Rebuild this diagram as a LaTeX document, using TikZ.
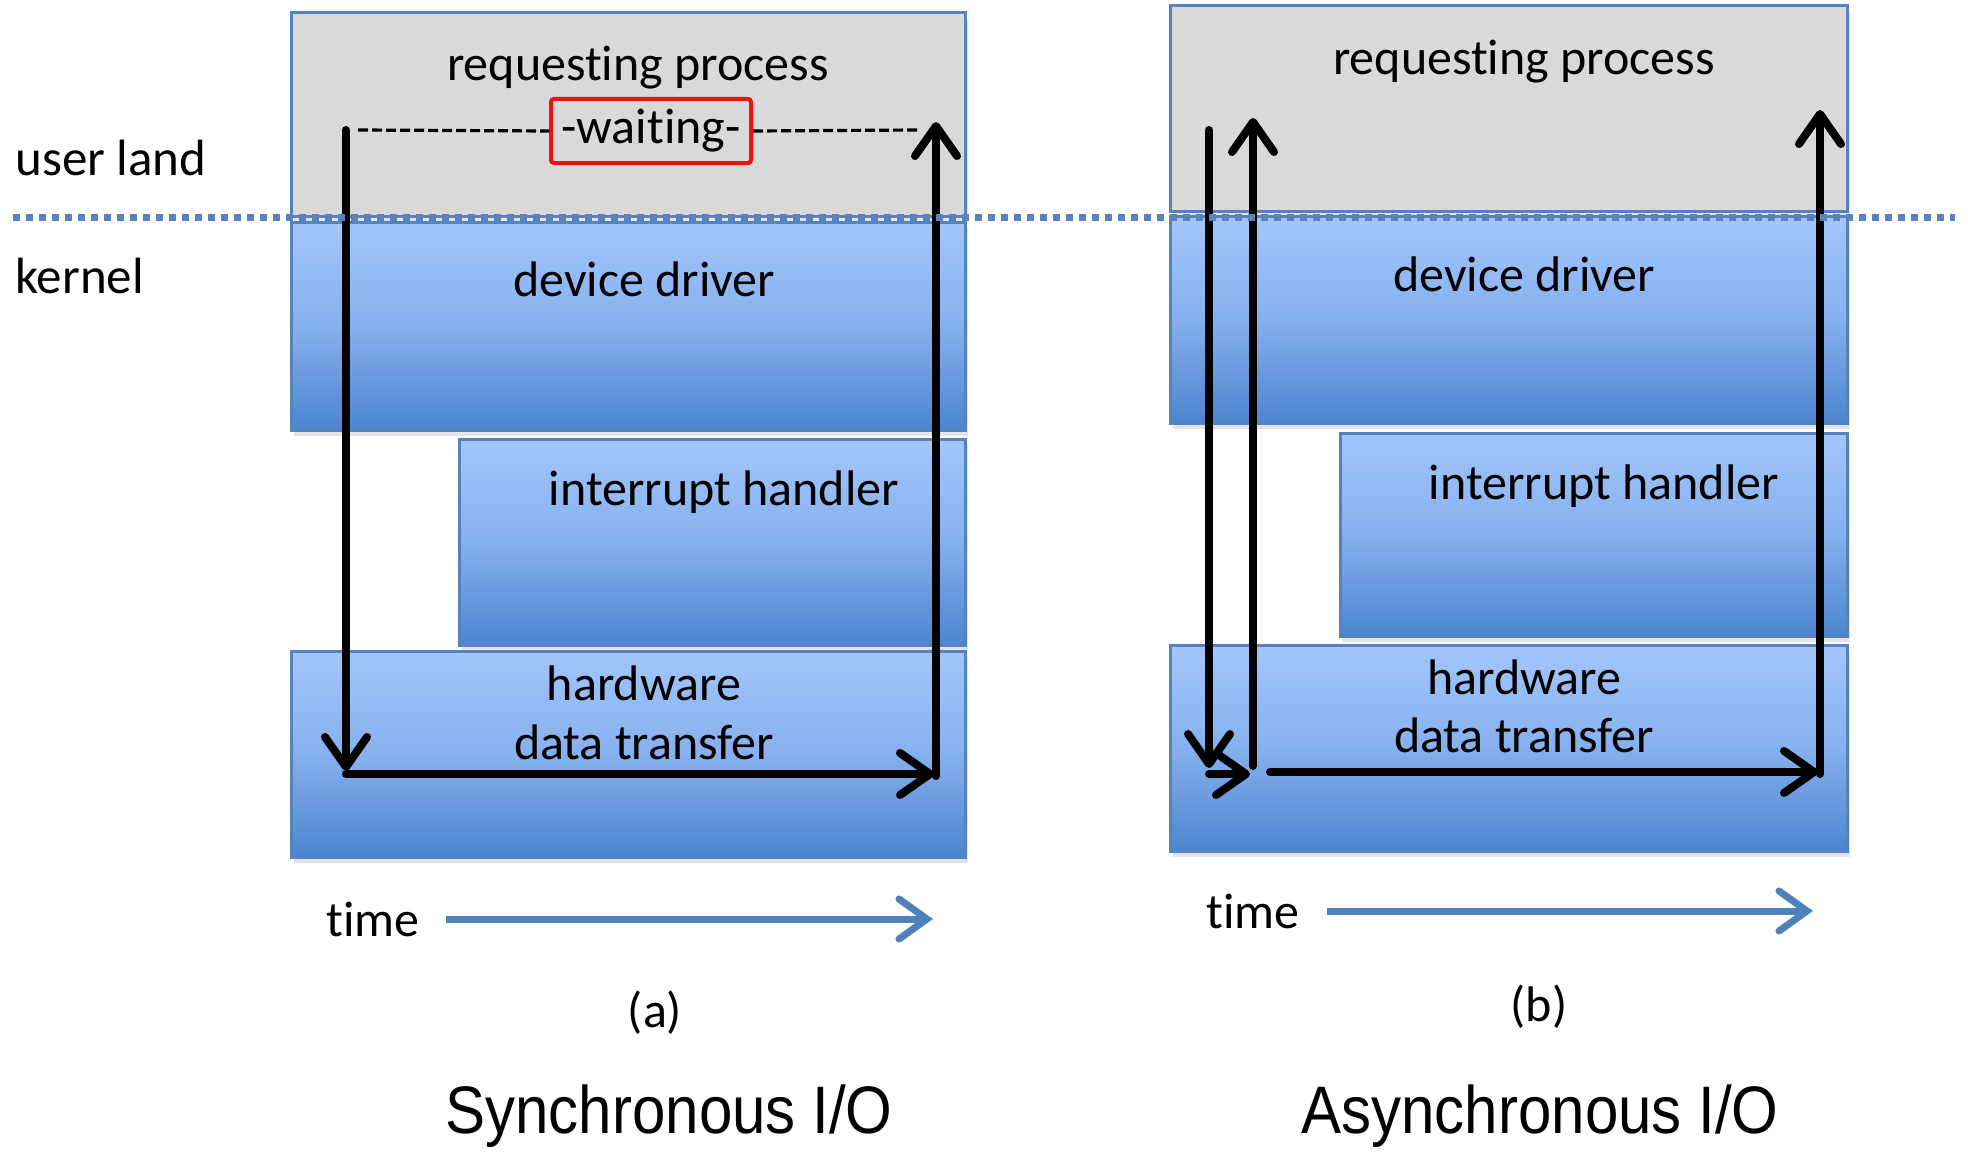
\documentclass[tikz,border=0pt]{standalone}
\usepackage{fontspec}
\setmainfont{Carlito}[Ligatures=NoCommon]
\newfontfamily\capfont{Liberation Sans}
\usetikzlibrary{arrows.meta,shadows}
\definecolor{boxborder}{HTML}{5683BF}
\definecolor{grayfill}{HTML}{D9D9D9}
\definecolor{bluetop}{HTML}{A3C6FB}
\definecolor{bluemid}{HTML}{86B0EE}
\definecolor{bluebot}{HTML}{4C85CE}
\definecolor{sepline}{HTML}{5A83BA}
\definecolor{timeblue}{HTML}{4F81BD}
\definecolor{waitred}{HTML}{EE1111}
\begin{document}
\begin{tikzpicture}[x=0.5pt,y=-0.5pt,
  shd/.style={drop shadow={opacity=0.22,shadow xshift=1.5pt,shadow yshift=-3pt}},
  graybox/.style={draw=boxborder, line width=1.5pt, fill=grayfill, shd},
  bluebox/.style={draw=boxborder, line width=1.5pt, top color=bluetop, bottom color=bluebot, middle color=bluemid, shd},
  lbl/.style={font=\fontsize{25}{29}\selectfont, inner sep=0pt, align=center},
  caption/.style={font=\capfont\fontsize{30}{34}\selectfont, inner sep=0pt},
  flow/.style={line width=4pt, -{Straight Barb[length=15pt,width=21pt,line cap=round,line join=round]}, line cap=round},
  timearrow/.style={draw=timeblue, line width=3.5pt, -{Straight Barb[length=14pt,width=20pt,line cap=round]}, shorten >=1pt},
  waitline/.style={line width=1.6pt, dash pattern=on 5pt off 2pt},
  sep/.style={draw=sepline, line width=3.5pt, dash pattern=on 3.5pt off 3pt}
]
\useasboundingbox (0,0) rectangle (1968,1156);
\fill[white] (0,0) rectangle (1968,1156);

% ---------- left panel (a) ----------
\path[graybox] (291,13) rectangle (965,216);
\path[bluebox] (291,222) rectangle (965,430);
\path[bluebox] (459,439) rectangle (965,645);
\path[bluebox] (291,651) rectangle (965,857);

\node[lbl] (rpA) at (638,68) {requesting process};
\node[lbl] (ddA) at (644,279) {device driver};
\node[lbl] (ihA) at (724,492) {interrupt handler};
\node[lbl] (hwA) at (644,683) {hardware};
\node[lbl] (dtA) at (644,742) {data transfer};

\node[lbl, draw=waitred, line width=2pt, rounded corners=1.5pt, minimum width=100pt, minimum height=32pt] (wait) at (651,131) {-waiting-};

\coordinate (aTop) at (346,130);
\coordinate (aDown) at (346,771);
\coordinate (aCorner) at (346,774);
\coordinate (aRight) at (934,774);
\coordinate (aUpStart) at (936,776);
\coordinate (aUpEnd) at (936,122);
\draw[waitline] (aTop) ++(12,0) -- (wait.west);
\draw[waitline] (wait.east) -- (918,130);
\draw[flow] (aTop) -- (aDown);
\draw[flow] (aCorner) -- (aRight);
\draw[flow] (aUpStart) -- (aUpEnd);

\node[lbl] (timeA) at (373,919) {time};
\coordinate (taS) at (446,919);
\coordinate (taE) at (935,919);
\draw[timearrow] (taS) -- (taE);
\node[lbl] (labA) at (655,1013) {(a)};
\node[caption] (capA) at (669,1116) {\scalebox{1}[1.12]{Synchronous I/O}};

% ---------- right panel (b) ----------
\path[graybox] (1170,6) rectangle (1847,211);
\path[bluebox] (1170,216) rectangle (1847,423);
\path[bluebox] (1340,433) rectangle (1847,636);
\path[bluebox] (1170,645) rectangle (1847,851);

\node[lbl] (rpB) at (1524,62) {requesting process};
\node[lbl] (ddB) at (1524,274) {device driver};
\node[lbl] (ihB) at (1604,486) {interrupt handler};
\node[lbl] (hwB) at (1524,677) {hardware};
\node[lbl] (dtB) at (1524,735) {data transfer};

\coordinate (bTop) at (1209,130);
\coordinate (bDown) at (1209,768);
\coordinate (bShortS) at (1209,774);
\coordinate (bShortE) at (1250,774);
\coordinate (bUpS) at (1253,766);
\coordinate (bUpE) at (1253,118);
\coordinate (bLongS) at (1270,772);
\coordinate (bLongE) at (1818,772);
\coordinate (bRUpS) at (1820,774);
\coordinate (bRUpE) at (1820,110);
\draw[flow] (bTop) -- (bDown);
\draw[flow] (bShortS) -- (bShortE);
\draw[flow] (bUpS) -- (bUpE);
\draw[flow] (bLongS) -- (bLongE);
\draw[flow] (bRUpS) -- (bRUpE);

\node[lbl] (timeB) at (1253,911) {time};
\coordinate (tbS) at (1327,911);
\coordinate (tbE) at (1815,911);
\draw[timearrow] (tbS) -- (tbE);
\node[lbl] (labB) at (1539,1007) {(b)};
\node[caption] (capB) at (1540,1116) {\scalebox{1}[1.12]{Asynchronous I/O}};

% ---------- separator ----------
\node[lbl, anchor=west, font=\fontsize{25.5}{29}\selectfont] (user) at (15,158) {user land};
\node[lbl, anchor=west, font=\fontsize{25.5}{29}\selectfont] (kern) at (15,276) {kernel};
\coordinate (sepL) at (13,217);
\coordinate (sepR) at (1955,217);
\draw[sep] (sepL) -- (sepR);
\end{tikzpicture}
\end{document}
